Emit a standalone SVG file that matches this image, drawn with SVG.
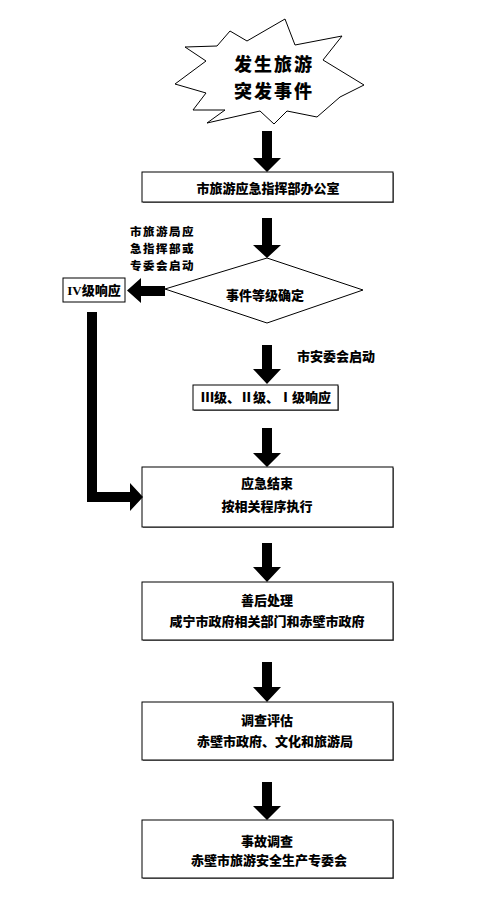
<svg xmlns="http://www.w3.org/2000/svg" width="502" height="912" viewBox="0 0 502 912">
<style>
.box{fill:#fff;stroke:#000;stroke-width:1}
.sh{fill:#808080}
.t{font-family:"Noto Sans CJK SC","Noto Sans",sans-serif;font-weight:900;font-size:13px;fill:#000;text-anchor:middle}
.tl{font-family:"Noto Sans CJK SC","Noto Sans",sans-serif;font-weight:900;font-size:11.5px;letter-spacing:1.5px;fill:#000}
.big{font-size:18px;letter-spacing:2px}
.arr{fill:#000}
</style>
<rect width="502" height="912" fill="#fff"/>
<g id="start">
<polygon class="box" points="285,19 295,45 342,36 323,60 364,85 340,97 317,117 287,111 274,124 260,111 207,123 225,110 193,110 206,93 175,84 206,61 185,47 217,46 230,31 247,41"/>
<text class="t big" x="274" y="71">发生旅游</text>
<text class="t big" x="274" y="98">突发事件</text>
</g>
<g id="office">
<rect class="sh" x="143" y="173" width="251" height="30"/>
<rect class="box" x="142" y="172" width="251" height="30"/>
<text class="t" x="268" y="193">市旅游应急指挥部办公室</text>
</g>
<g id="label-left">
<text class="tl" x="130" y="236">市旅游局应</text>
<text class="tl" x="130" y="253">急指挥部或</text>
<text class="tl" x="130" y="270">专委会启动</text>
</g>
<g id="decide">
<polygon class="box" points="165,289 267,258 363,290 267,323"/>
<text class="t" x="265" y="300">事件等级确定</text>
</g>
<g id="level4">
<rect class="box" x="63" y="278" width="62" height="24"/>
<text class="t" x="94" y="295"><tspan font-family="Liberation Serif">IV</tspan>级响应</text>
</g>
<g id="label-right">
<text class="tl" x="297" y="361" style="font-size:13px;letter-spacing:0">市安委会启动</text>
</g>
<g id="level123">
<rect class="sh" x="194" y="386" width="145" height="25"/>
<rect class="box" x="193" y="385" width="145" height="25"/>
<text class="t" x="266" y="402">Ⅲ级、Ⅱ级、Ⅰ级响应</text>
</g>
<g id="end">
<rect class="sh" x="143" y="468" width="251" height="60"/>
<rect class="box" x="142" y="467" width="251" height="60"/>
<text class="t" x="267" y="488">应急结束</text>
<text class="t" x="267" y="511">按相关程序执行</text>
</g>
<g id="after">
<rect class="sh" x="143" y="583" width="251" height="58"/>
<rect class="box" x="142" y="582" width="251" height="58"/>
<text class="t" x="267" y="605">善后处理</text>
<text class="t" x="267" y="626">咸宁市政府相关部门和赤壁市政府</text>
</g>
<g id="assess">
<rect class="sh" x="143" y="703" width="251" height="58"/>
<rect class="box" x="142" y="702" width="251" height="58"/>
<text class="t" x="267" y="725">调查评估</text>
<text class="t" x="275" y="746">赤壁市政府、文化和旅游局</text>
</g>
<g id="investigate">
<rect class="sh" x="143" y="821" width="251" height="58"/>
<rect class="box" x="142" y="820" width="251" height="58"/>
<text class="t" x="267" y="846">事故调查</text>
<text class="t" x="269" y="865">赤壁市旅游安全生产专委会</text>
</g>
<g id="connectors" class="arr">
<polygon points="262,131 272,131 272,158 281,158 267,172 253,158 262,158"/>
<polygon points="262,218 272,218 272,245 281,245 267,258 253,245 262,245"/>
<polygon points="165,286 141,286 141,278 127,290.5 141,303 141,296 165,296"/>
<polygon points="87,312 97,312 97,492 130,492 130,483 143,497 130,511 130,502 87,502"/>
<polygon points="262,345 272,345 272,369 281,369 267,384 253,369 262,369"/>
<polygon points="262,428 272,428 272,453 281,453 267,467 253,453 262,453"/>
<polygon points="262,543 272,543 272,567 281,567 267,582 253,567 262,567"/>
<polygon points="262,662 272,662 272,687 281,687 267,702 253,687 262,687"/>
<polygon points="262,782 272,782 272,806 281,806 267,820 253,806 262,806"/>
</g>
</svg>
